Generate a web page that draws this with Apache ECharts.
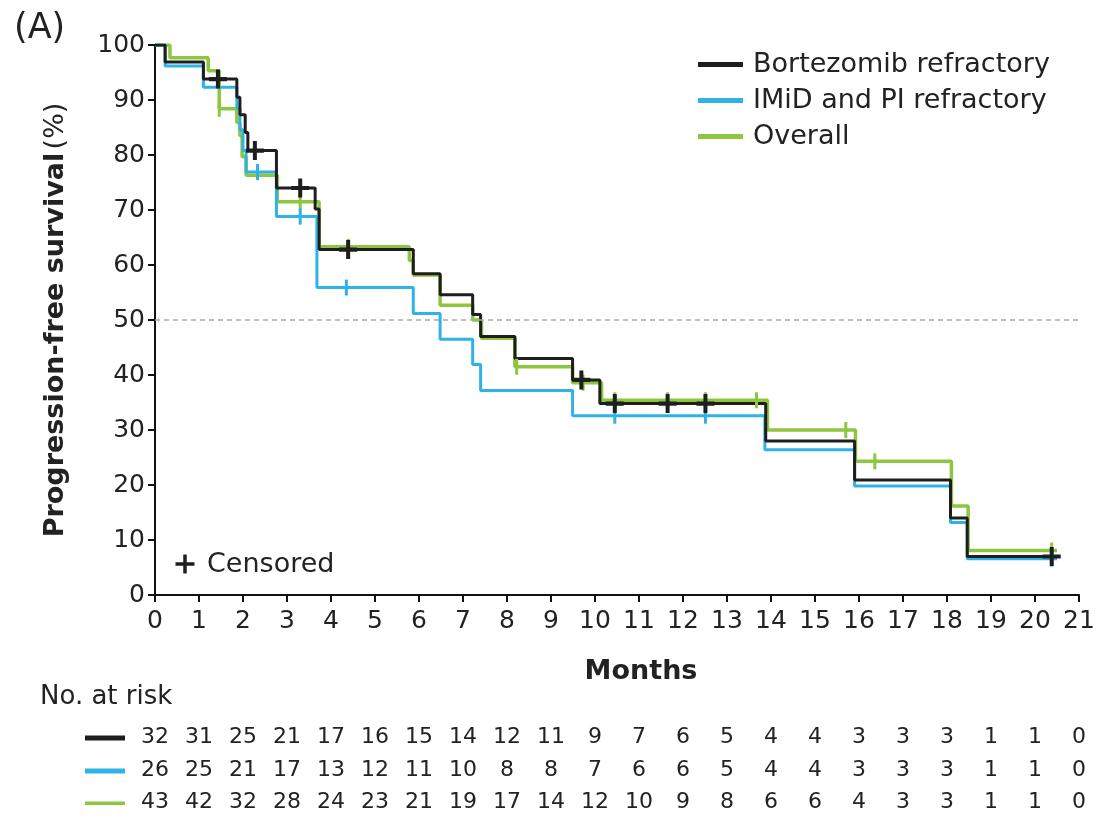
<!DOCTYPE html>
<html>
<head>
<meta charset="utf-8">
<script src="https://cdn.jsdelivr.net/npm/echarts@6/dist/echarts.min.js"></script>
<style>
html,body{margin:0;padding:0;background:#fff;}
#chart{width:1100px;height:819px;}
</style>
</head>
<body>
<div id="chart"></div>
<script>
// ---- Data ----
const seriesNames = ['Bortezomib refractory', 'IMiD and PI refractory', 'Overall'];

const bortTime = [0, 0.23, 1.10, 1.86, 1.93, 2.05, 2.11, 2.76, 3.64, 3.73, 5.87, 6.48, 7.22, 7.40, 8.18, 9.49, 10.11, 13.88, 15.90, 18.08, 18.46, 20.50];
const bortSurv = [100, 96.9, 93.8, 90.5, 87.3, 84.1, 80.8, 74.0, 70.2, 62.8, 58.4, 54.6, 51.0, 47.0, 43.0, 39.1, 34.8, 28.0, 20.9, 14.0, 7.0, 7.0];
const bortCensTime = [1.43, 2.27, 3.30, 4.39, 9.69, 10.45, 11.65, 12.51, 20.38];
const bortCensSurv = [93.8, 80.8, 74.0, 62.8, 39.1, 34.8, 34.8, 34.8, 7.0];

const imidTime = [0, 0.23, 1.10, 1.86, 1.93, 2.00, 2.07, 2.76, 3.68, 5.87, 6.48, 7.22, 7.40, 9.49, 13.86, 15.90, 18.08, 18.46, 20.50];
const imidSurv = [100, 96.2, 92.3, 88.5, 84.6, 80.8, 76.9, 68.8, 55.9, 51.2, 46.5, 41.9, 37.2, 32.6, 26.4, 19.8, 13.2, 6.6, 6.6];
const imidCensTime = [2.33, 3.30, 4.35, 10.45, 12.51, 20.38];
const imidCensSurv = [76.9, 68.8, 55.9, 32.6, 32.6, 6.6];

const overTime = [0, 0.34, 1.21, 1.46, 1.86, 1.93, 1.98, 2.07, 2.78, 3.73, 5.78, 5.87, 6.48, 7.22, 7.42, 8.18, 9.49, 10.15, 13.92, 15.92, 18.10, 18.48, 20.50];
const overSurv = [100, 97.7, 95.3, 88.4, 85.9, 83.5, 79.7, 76.3, 71.5, 63.3, 60.8, 58.2, 52.7, 50.0, 46.7, 41.5, 38.6, 35.4, 30.0, 24.3, 16.2, 8.1, 8.1];
const overCensTime = [1.46, 3.30, 4.39, 8.22, 9.73, 10.45, 11.65, 12.51, 13.67, 15.70, 16.36, 20.38];
const overCensSurv = [88.4, 71.5, 63.3, 41.5, 38.6, 35.4, 35.4, 35.4, 35.4, 30.0, 24.3, 8.1];

const monthTicks = [0,1,2,3,4,5,6,7,8,9,10,11,12,13,14,15,16,17,18,19,20,21];
const riskBort = [32, 31, 25, 21, 17, 16, 15, 14, 12, 11, 9, 7, 6, 5, 4, 4, 3, 3, 3, 1, 1, 0];
const riskImid = [26, 25, 21, 17, 13, 12, 11, 10, 8, 8, 7, 6, 6, 5, 4, 4, 3, 3, 3, 1, 1, 0];
const riskOver = [43, 42, 32, 28, 24, 23, 21, 19, 17, 14, 12, 10, 9, 8, 6, 6, 4, 3, 3, 1, 1, 0];

const medianRef = 50;

// ---- Styling ----
const FONT = 'DejaVu Sans';
const TXT = '#222222';
const C_BORT = '#1e1e1e';
const C_IMID = '#2fb3e6';
const C_OVER = '#8dc63f';

const zip = (a, b) => a.map((v, i) => [v, b[i]]);
const PLUS = 'path://M7,0H11V7H18V11H11V18H7V11H0V7H7Z';

function plusPoints(cx, cy, w, h, t) {
  const hw = w / 2, hh = h / 2, ht = t / 2;
  return [
    [cx - ht, cy - hh], [cx + ht, cy - hh], [cx + ht, cy - ht], [cx + hw, cy - ht],
    [cx + hw, cy + ht], [cx + ht, cy + ht], [cx + ht, cy + hh], [cx - ht, cy + hh],
    [cx - ht, cy + ht], [cx - hw, cy + ht], [cx - hw, cy - ht], [cx - ht, cy - ht]
  ];
}

function riskAxis(arr, offset) {
  return {
    type: 'value', gridIndex: 0, position: 'bottom', offset: offset,
    min: 0, max: 21, interval: 1,
    axisLine: {show: false}, axisTick: {show: false}, splitLine: {show: false},
    axisLabel: {
      show: true, margin: 0, fontFamily: FONT, fontSize: 22, color: TXT,
      showMinLabel: true, showMaxLabel: true,
      formatter: v => { const i = monthTicks.indexOf(Math.round(v)); return i >= 0 ? String(arr[i]) : ''; }
    }
  };
}

const chart = echarts.init(document.getElementById('chart'), null, {renderer: 'canvas'});
const option = {
  backgroundColor: '#ffffff',
  animation: false,
  grid: {left: 155, right: 21, top: 45, bottom: 224, containLabel: false},
  legend: {
    data: seriesNames,
    orient: 'vertical', left: 693, top: 45,
    icon: 'rect', itemWidth: 45, itemHeight: 5, itemGap: 7,
    textStyle: {fontFamily: FONT, fontSize: 27, color: TXT, lineHeight: 29, padding: [0, 0, 0, 5]}
  },
  xAxis: [
    {
      type: 'value', min: 0, max: 21, interval: 1,
      name: 'Months', nameLocation: 'middle', nameGap: 63,
      nameTextStyle: {fontFamily: FONT, fontSize: 27, fontWeight: 'bold', color: TXT, padding: [0, 0, 0, 48]},
      axisLine: {show: true, onZero: false, lineStyle: {color: '#111', width: 2}},
      axisTick: {show: true, inside: false, length: 7, lineStyle: {color: '#111', width: 2}},
      axisLabel: {margin: 14, fontFamily: FONT, fontSize: 25, color: TXT, showMinLabel: true, showMaxLabel: true},
      splitLine: {show: false}
    },
    riskAxis(riskBort, 131),
    riskAxis(riskImid, 164),
    riskAxis(riskOver, 196)
  ],
  yAxis: {
    type: 'value', min: 0, max: 100, interval: 10,
    name: '{b|Progression-free survival} {n|(%)}', nameLocation: 'middle', nameGap: 86, nameRotate: 90,
    nameTextStyle: {
      rich: {
        b: {fontFamily: FONT, fontSize: 27, fontWeight: 'bold', color: TXT},
        n: {fontFamily: FONT, fontSize: 27, color: TXT}
      }
    },
    axisLine: {show: true, onZero: false, lineStyle: {color: '#111', width: 2}},
    axisTick: {show: true, inside: false, length: 7, lineStyle: {color: '#111', width: 2}},
    axisLabel: {margin: 10, fontFamily: FONT, fontSize: 25, color: TXT},
    splitLine: {show: false}
  },
  series: [
    {
      name: seriesNames[2], type: 'line', step: 'end', data: zip(overTime, overSurv),
      showSymbol: false, symbol: 'none', z: 2,
      itemStyle: {color: C_OVER}, lineStyle: {color: C_OVER, width: 3.5},
      markLine: {
        silent: true, symbol: 'none', label: {show: false},
        lineStyle: {color: '#aaaaaa', type: [5, 4], width: 1.5},
        data: [{yAxis: medianRef}]
      }
    },
    {
      name: seriesNames[1], type: 'line', step: 'end', data: zip(imidTime, imidSurv),
      showSymbol: false, symbol: 'none', z: 3,
      itemStyle: {color: C_IMID}, lineStyle: {color: C_IMID, width: 3}
    },
    {
      name: seriesNames[0], type: 'line', step: 'end', data: zip(bortTime, bortSurv),
      showSymbol: false, symbol: 'none', z: 4,
      itemStyle: {color: C_BORT}, lineStyle: {color: C_BORT, width: 3}
    },
    {
      name: 'Overall censored', type: 'scatter', data: zip(overCensTime, overCensSurv),
      symbol: 'rect', symbolSize: [3, 16], z: 5, silent: true,
      itemStyle: {color: C_OVER, opacity: 1}
    },
    {
      name: 'IMiD censored', type: 'scatter', data: zip(imidCensTime, imidCensSurv),
      symbol: 'rect', symbolSize: [3, 16], z: 6, silent: true,
      itemStyle: {color: C_IMID, opacity: 1}
    },
    {
      name: 'Bortezomib censored', type: 'scatter', data: zip(bortCensTime, bortCensSurv),
      symbol: PLUS, symbolSize: [18, 19], symbolKeepAspect: false, z: 7, silent: true,
      itemStyle: {color: C_BORT, opacity: 1}
    }
  ],
  graphic: [
    {type: 'text', left: 14, top: 11, style: {text: '(A)', fontFamily: FONT, fontSize: 35, fill: TXT}},
    {type: 'polygon', shape: {points: plusPoints(185, 564, 19, 19, 3.5)}, style: {fill: C_BORT}},
    {type: 'text', x: 207, y: 565, style: {text: 'Censored', fontFamily: FONT, fontSize: 27, fill: TXT, verticalAlign: 'middle'}},
    {type: 'text', x: 40, y: 697, style: {text: 'No. at risk', fontFamily: FONT, fontSize: 26, fill: TXT, verticalAlign: 'middle'}},
    {type: 'rect', shape: {x: 85, y: 735.5, width: 40, height: 5}, style: {fill: C_BORT}},
    {type: 'rect', shape: {x: 85, y: 768.5, width: 40, height: 5}, style: {fill: C_IMID}},
    {type: 'rect', shape: {x: 85, y: 801.5, width: 40, height: 3.5}, style: {fill: C_OVER}}
  ]
};
chart.setOption(option);
</script>
</body>
</html>
